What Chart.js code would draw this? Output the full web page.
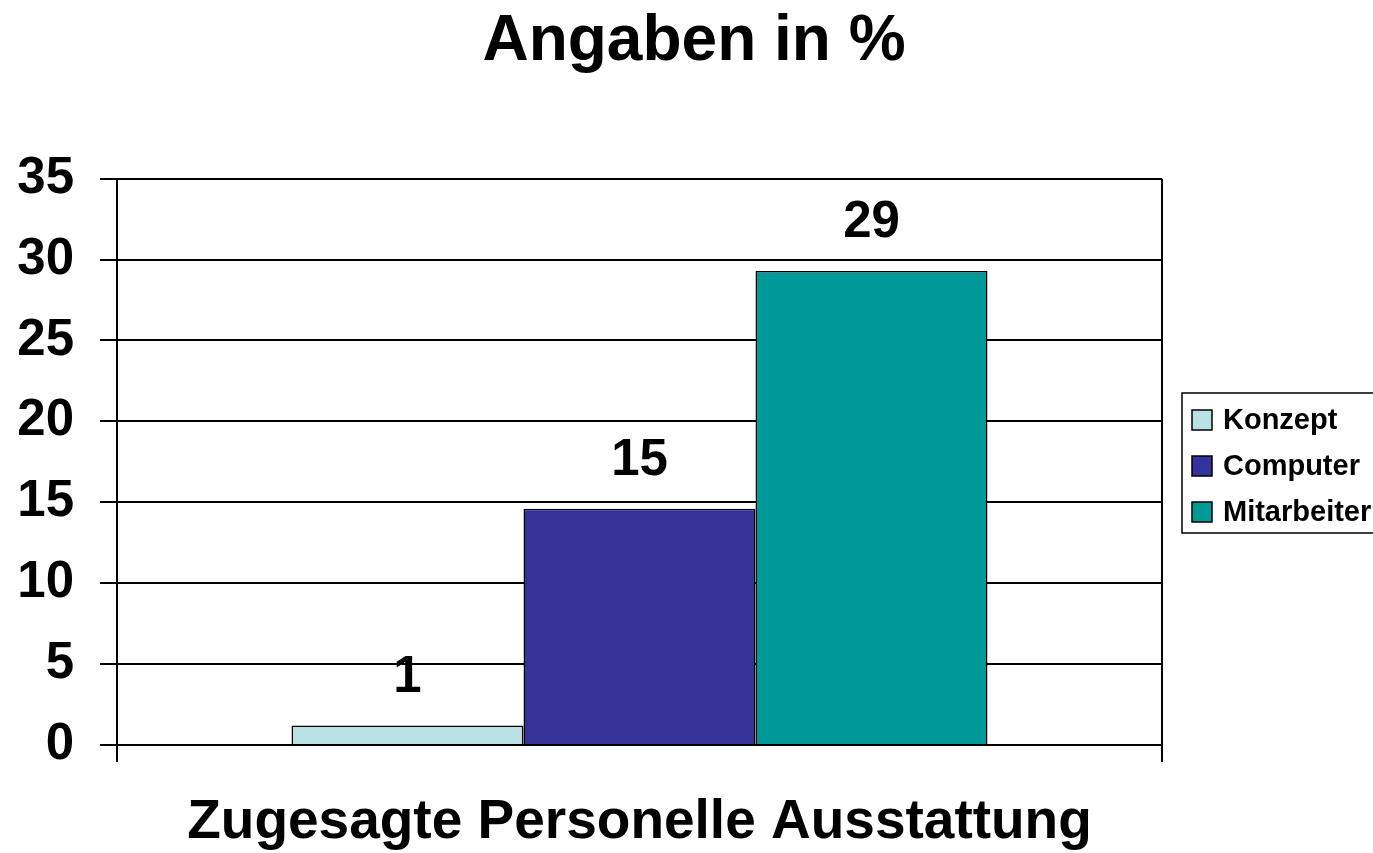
<!DOCTYPE html>
<html>
<head>
<meta charset="utf-8">
<script src="https://cdn.jsdelivr.net/npm/chart.js@4/dist/chart.umd.min.js"></script>
<style>
html,body{margin:0;padding:0;background:#fff;}
#wrap{width:1373px;height:853px;position:relative;}
</style>
</head>
<body>
<div id="wrap"><canvas id="c" width="1373" height="853"></canvas></div>
<script>
const categories = [''];
const seriesNames = ['Konzept', 'Computer', 'Mitarbeiter'];
const konzeptValues = [1.2];
const computerValues = [14.6];
const mitarbeiterValues = [29.3];
const seriesColors = ['#B9E0E3', '#333399', '#009999'];
const yTicks = [0, 5, 10, 15, 20, 25, 30, 35];
const chartTitle = 'Angaben in %';
const xTitle = 'Zugesagte Personelle Ausstattung';

const FONT = "'Liberation Sans', Arial, Helvetica, sans-serif";
const seriesValues = [konzeptValues, computerValues, mitarbeiterValues];

const valueLabels = {
  id: 'valueLabels',
  afterDatasetsDraw(chart) {
    const ctx = chart.ctx;
    ctx.save();
    ctx.font = 'bold 51px ' + FONT;
    ctx.fillStyle = '#000';
    ctx.textAlign = 'center';
    ctx.textBaseline = 'alphabetic';
    chart.data.datasets.forEach((ds, i) => {
      const meta = chart.getDatasetMeta(i);
      meta.data.forEach((bar, j) => {
        ctx.fillText(String(Math.round(ds.data[j])), bar.x, bar.y - 34);
      });
    });
    ctx.restore();
  }
};

const boxLegend = {
  id: 'boxLegend',
  afterDraw(chart) {
    const ctx = chart.ctx;
    const ca = chart.chartArea;
    const x0 = ca.right + 20, y0 = 393, h = 140, w = 220;
    ctx.save();
    ctx.fillStyle = '#fff';
    ctx.fillRect(x0, y0, w, h);
    ctx.strokeStyle = '#000';
    ctx.lineWidth = 1.5;
    ctx.strokeRect(x0, y0, w, h);
    ctx.font = 'bold 29px ' + FONT;
    ctx.textAlign = 'left';
    ctx.textBaseline = 'middle';
    chart.data.datasets.forEach((ds, i) => {
      const cy = 420 + i * 46;
      ctx.fillStyle = ds.backgroundColor;
      ctx.fillRect(x0 + 10, cy - 10, 20, 20);
      ctx.strokeRect(x0 + 10, cy - 10, 20, 20);
      ctx.fillStyle = '#000';
      ctx.fillText(ds.label, x0 + 41, cy + 1);
    });
    ctx.restore();
  }
};

new Chart(document.getElementById('c'), {
  type: 'bar',
  data: {
    labels: categories,
    datasets: seriesNames.map((name, i) => ({
      label: name,
      data: seriesValues[i],
      backgroundColor: seriesColors[i],
      borderColor: '#000',
      borderWidth: 1.5,
      borderSkipped: 'bottom',
      categoryPercentage: 0.666,
      barPercentage: 1.0
    }))
  },
  options: {
    responsive: false,
    animation: false,
    devicePixelRatio: 1,
    layout: { padding: { left: 15, right: 0, top: 0, bottom: 0 } },
    plugins: {
      legend: { display: false },
      tooltip: { enabled: false },
      title: {
        display: true,
        text: chartTitle,
        color: '#000',
        font: { family: FONT, size: 64, weight: 'bold', lineHeight: 1.12 },
        padding: { top: 7, bottom: 100 }
      }
    },
    scales: {
      x: {
        grid: { display: true, offset: true, color: '#000', lineWidth: 2, tickLength: 17, drawOnChartArea: true, tickColor: '#000' },
        border: { display: true, color: '#000', width: 2 },
        ticks: { display: false },
        title: {
          display: true,
          text: xTitle,
          color: '#000',
          font: { family: FONT, size: 55, weight: 'bold', lineHeight: 1 },
          padding: { top: 3, bottom: 3 }
        },
        afterFit(s) { s.height = 108; }
      },
      y: {
        min: 0,
        max: 35,
        afterBuildTicks(s) { s.ticks = yTicks.map(v => ({ value: v })); },
        grid: { color: '#000', lineWidth: 2, tickLength: 17, tickColor: '#000' },
        border: { display: true, color: '#000', width: 2 },
        ticks: {
          color: '#000',
          padding: 26,
          font: { family: FONT, size: 51, weight: 'bold' }
        },
        afterFit(s) { s.width = 102; }
      },
      r: {
        type: 'linear',
        position: 'right',
        display: true,
        grid: { display: false, drawTicks: false },
        border: { display: false },
        ticks: { display: false },
        afterFit(s) { s.width = 211; }
      }
    }
  },
  plugins: [valueLabels, boxLegend]
});
</script>
</body>
</html>
